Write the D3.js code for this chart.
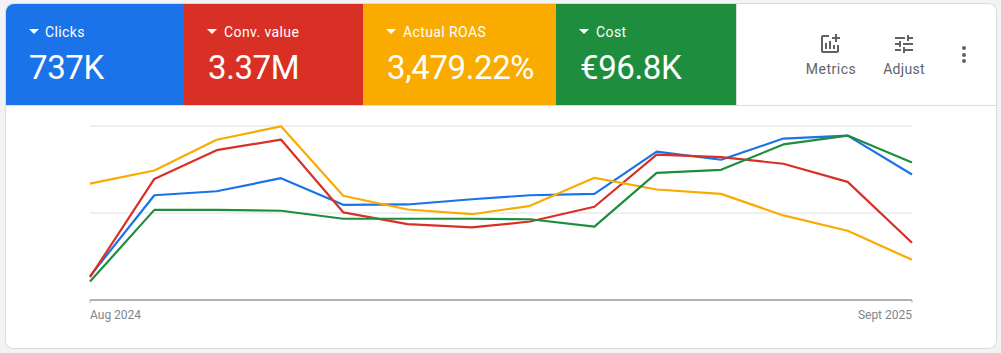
<!DOCTYPE html>
<html>
<head>
<meta charset="utf-8">
<script src="https://cdn.jsdelivr.net/npm/d3@7"></script>
<style>
	html, body { margin: 0; padding: 0; background: #f1f3f4; overflow: hidden; }
	svg { display: block; font-family: Roboto, sans-serif; }
</style>
</head>
<body>
<div id="chart"></div>
<script>
const months = ["2024-08-01", "2024-09-01", "2024-10-01", "2024-11-01", "2024-12-01", "2025-01-01", "2025-02-01",
	"2025-03-01", "2025-04-01", "2025-05-01", "2025-06-01", "2025-07-01", "2025-08-01", "2025-09-01"]
const tickLabels = ["Aug 2024", "Sept 2025"]

// relative to the top gridline (=100)
const clicks = [13.7, 60.2, 62.5, 70.0, 54.7, 54.9, 57.9, 60.2, 61.0, 85.3, 80.6, 92.8, 94.5, 72.1]
const convValue = [13.1, 69.6, 86.1, 92.2, 50.4, 43.6, 41.7, 45.1, 53.6, 83.6, 82.1, 78.3, 67.9, 32.9]
const roas = [66.9, 74.4, 92.1, 99.8, 59.9, 52.0, 49.3, 54.1, 70.2, 63.5, 61.0, 48.6, 39.8, 23.1]
const cost = [10.6, 51.8, 51.8, 51.3, 46.7, 46.7, 46.7, 46.4, 42.2, 73.1, 74.8, 89.4, 94.5, 79.0]

const metricNames = ["Clicks", "Conv. value", "Actual ROAS", "Cost"]
const metricTotals = ["737K", "3.37M", "3,479.22%", "€96.8K"]
const metricColors = ["#1a73e8", "#d93025", "#f9ab00", "#1e8e3e"]
const metricSeries = [clicks, convValue, roas, cost]

const tileEdges = [6, 184, 363, 556, 736]

const svg = d3.select("#chart").append("svg")
	.attr("width", 1001)
	.attr("height", 353)

// card
svg.append("rect")
	.attr("x", 5.5)
	.attr("y", 3.5)
	.attr("width", 991)
	.attr("height", 345)
	.attr("rx", 8)
	.attr("fill", "#fff")
	.attr("stroke", "#dadce0")

svg.append("clipPath")
	.attr("id", "card-clip")
	.append("rect")
	.attr("x", 6)
	.attr("y", 4)
	.attr("width", 990)
	.attr("height", 344)
	.attr("rx", 8)

// metric tiles
const tiles = svg.append("g").attr("clip-path", "url(#card-clip)")

metricNames.forEach((name, i) => {
	const x0 = tileEdges[i]
	const tile = tiles.append("g")

	tile.append("rect")
		.attr("x", x0)
		.attr("y", 4)
		.attr("width", tileEdges[i + 1] - x0)
		.attr("height", 101)
		.attr("fill", metricColors[i])

	tile.append("path")
		.attr("d", `M${x0 + 23},29 h10 l-5,5 z`)
		.attr("fill", "#fff")

	tile.append("text")
		.attr("x", x0 + (i === 0 ? 39 : 40))
		.attr("y", 37)
		.attr("fill", "#fff")
		.style("font-size", "14px")
		.style("letter-spacing", "0.4px")
		.text(name)

	tile.append("text")
		.attr("x", x0 + (i === 0 ? 23 : 24))
		.attr("y", 79)
		.attr("fill", "#fff")
		.style("font-size", "33px")
		.style("letter-spacing", "-0.4px")
		.text(metricTotals[i])
})

svg.append("line")
	.attr("x1", 6)
	.attr("x2", 996)
	.attr("y1", 105.5)
	.attr("y2", 105.5)
	.attr("stroke", "#dadce0")

svg.append("line")
	.attr("x1", 736.5)
	.attr("x2", 736.5)
	.attr("y1", 4)
	.attr("y2", 105)
	.attr("stroke", "#dadce0")

// toolbar on the right
const toolColor = "#5f6368"

svg.append("path")
	.attr("transform", "translate(818,32)")
	.attr("fill", toolColor)
	.attr("d", "M22 5v2h-3v3h-2V7h-3V5h3V2h2v3h3zm-3 14H5V5h6V3H5c-1.1 0-2 .9-2 2v14c0 1.1.9 2 2 2h14c1.1 0 2-.9 2-2v-6h-2v6zm-4-6v4h2v-4h-2zm-4 4h2V9h-2v8zm-2 0v-6H7v6h2z")

svg.append("path")
	.attr("transform", "translate(892,32)")
	.attr("fill", toolColor)
	.attr("d", "M3 17v2h6v-2H3zM3 5v2h10V5H3zm10 16v-2h8v-2h-8v-2h-2v6h2zM7 9v2H3v2h4v2h2V9H7zm14 4v-2H11v2h10zm-6-4h2V7h4V5h-4V3h-2v6z")

svg.append("text")
	.attr("x", 831)
	.attr("y", 74)
	.attr("text-anchor", "middle")
	.attr("fill", toolColor)
	.style("font-size", "14px")
	.style("letter-spacing", "0.5px")
	.text("Metrics")

svg.append("text")
	.attr("x", 904)
	.attr("y", 74)
	.attr("text-anchor", "middle")
	.attr("fill", toolColor)
	.style("font-size", "14px")
	.style("letter-spacing", "0.3px")
	.text("Adjust")

svg.append("g")
	.selectAll("circle")
	.data([48, 55, 61])
	.join("circle")
	.attr("cx", 964)
	.attr("cy", (d) => d)
	.attr("r", 2)
	.attr("fill", toolColor)

// scales
const dates = months.map((d) => new Date(d))
const xScale = d3.scaleUtc().domain([dates[0], dates[dates.length - 1]]).range([90, 912])
const yScale = d3.scaleLinear().domain([0, 100]).range([300, 126])

// gridlines
const grid = svg.append("g")
	.attr("transform", "translate(90,0)")
	.call(d3.axisLeft(yScale).tickValues([50, 100]).tickSize(-822).tickFormat("").offset(0))
grid.select(".domain").remove()
grid.selectAll("line")
	.attr("stroke", "#efefef")
	.attr("stroke-width", 2)

// x axis
const xAxis = svg.append("g")
	.attr("transform", "translate(0,300)")
	.call(d3.axisBottom(xScale)
		.tickValues(xScale.domain())
		.tickFormat((d, i) => tickLabels[i])
		.tickSize(3)
		.tickPadding(7)
		.tickSizeOuter(0)
		.offset(0))
xAxis.select(".domain")
	.attr("stroke", "#b0b3b5")
	.attr("stroke-width", 2)
xAxis.selectAll("line").attr("stroke", "#b0b3b5")
xAxis.selectAll("text")
	.attr("text-anchor", (d, i) => (i === 0 ? "start" : "end"))
	.attr("fill", "#80868b")
	.style("font-family", "Roboto, sans-serif")
	.style("font-size", "12px")

// lines
const line = d3.line()
	.x((d, i) => xScale(dates[i]))
	.y((d) => yScale(d))

metricSeries.forEach((values, i) => {
	svg.append("path")
		.datum(values)
		.attr("fill", "none")
		.attr("stroke", metricColors[i])
		.attr("stroke-width", 2.2)
		.attr("stroke-linejoin", "round")
		.attr("d", line)
})
</script>
</body>
</html>
